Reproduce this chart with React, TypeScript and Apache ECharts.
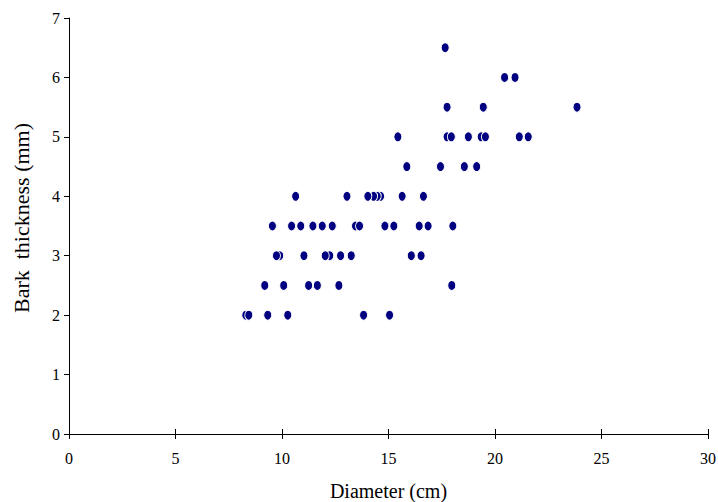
import React, { useEffect, useRef } from "react";
import * as echarts from "echarts";

const xTicks = { min: 0, max: 30, interval: 5 };
const yTicks = { min: 0, max: 7, interval: 1 };

const diameter: number[] = [
  8.3, 8.44, 9.33, 10.27, 13.83, 15.05,
  9.19, 10.08, 11.25, 11.66, 12.67, 17.97,
  9.89, 9.74, 11.03, 12.24, 12.03, 12.75, 13.25, 16.07, 16.53,
  9.55, 10.45, 10.88, 11.45, 11.89, 12.36, 13.45, 13.64, 14.83, 15.25, 16.44, 16.86, 18.02,
  10.64, 13.05, 14.63, 14.47, 14.3, 14.03, 15.64, 16.64,
  15.86, 17.44, 18.56, 19.14,
  15.44, 17.75, 17.95, 18.75, 19.35, 19.55, 21.14, 21.56,
  17.75, 19.45, 23.85,
  20.45, 20.94,
  17.66,
];
const thickness: number[] = [
  2, 2, 2, 2, 2, 2,
  2.5, 2.5, 2.5, 2.5, 2.5, 2.5,
  3, 3, 3, 3, 3, 3, 3, 3, 3,
  3.5, 3.5, 3.5, 3.5, 3.5, 3.5, 3.5, 3.5, 3.5, 3.5, 3.5, 3.5, 3.5,
  4, 4, 4, 4, 4, 4, 4, 4,
  4.5, 4.5, 4.5, 4.5,
  5, 5, 5, 5, 5, 5, 5, 5,
  5.5, 5.5, 5.5,
  6, 6,
  6.5,
];

const xName = "Diameter (cm)";
const yName = "Bark  thickness (mm)";

export default function App() {
  const ref = useRef<HTMLDivElement>(null);
  useEffect(() => {
    if (!ref.current) return;
    const chart = echarts.init(ref.current, undefined, { renderer: "svg" });
    const font = "'Liberation Serif', 'Times New Roman', serif";
    const points = diameter.map((d, i) => [d, thickness[i]]);
    chart.setOption({
      animation: false,
      backgroundColor: "#ffffff",
      grid: { left: 69, right: 10, top: 18, bottom: 68, containLabel: false, outerBoundsMode: "none" },
      graphic: [
        {
          type: "text",
          x: 21,
          y: 218,
          rotation: Math.PI / 2,
          style: {
            text: yName,
            fontFamily: font,
            fontSize: 22,
            fill: "#000",
            align: "center",
            verticalAlign: "middle",
          },
        },
      ],
      xAxis: [
        {
          type: "value",
          ...xTicks,
          name: xName,
          nameLocation: "middle",
          nameGap: 47,
          nameTextStyle: { fontFamily: font, fontSize: 20, color: "#000" },
          axisLine: { show: true, onZero: false, lineStyle: { color: "#000", width: 1 } },
          axisTick: { show: true, length: 5, lineStyle: { color: "#000" } },
          axisLabel: { fontFamily: font, fontSize: 16, color: "#000", margin: 16 },
          splitLine: { show: false },
        },
        {
          type: "value",
          ...xTicks,
          position: "bottom",
          axisLine: { show: false },
          axisTick: { show: true, inside: true, length: 5, lineStyle: { color: "#000" } },
          axisLabel: { show: false },
          splitLine: { show: false },
        },
      ],
      yAxis: [
        {
          type: "value",
          ...yTicks,
          axisLine: { show: true, onZero: false, lineStyle: { color: "#000", width: 1 } },
          axisTick: { show: true, length: 5, lineStyle: { color: "#000" } },
          axisLabel: { fontFamily: font, fontSize: 16, color: "#000", margin: 9 },
          splitLine: { show: false },
        },
      ],
      series: [
        {
          type: "scatter",
          xAxisIndex: 0,
          yAxisIndex: 0,
          data: points,
          symbol: "circle",
          symbolSize: [8, 10],
          itemStyle: { color: "#000080", borderColor: "#ffffff", borderWidth: 1, opacity: 1 },
        },
      ],
    });
    return () => chart.dispose();
  }, []);
  return <div ref={ref} style={{ width: 718, height: 502, position: "absolute", left: 0, top: 0 }} />;
}
